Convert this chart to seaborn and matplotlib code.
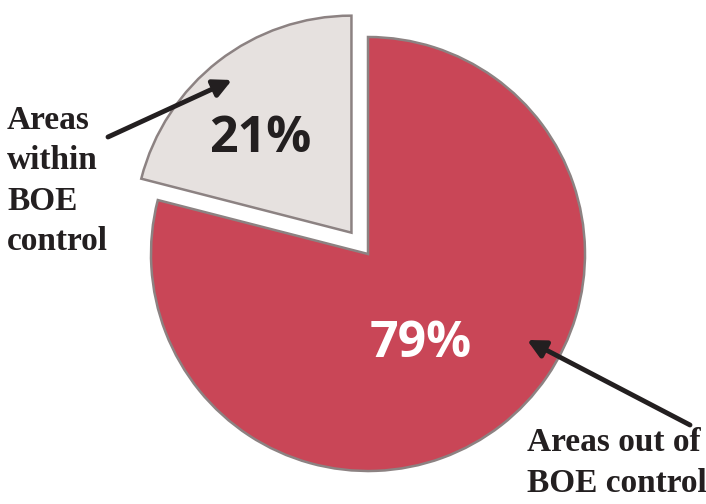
import numpy as np
import pandas as pd
from matplotlib import pyplot as plt
import seaborn as sns

# pie data
labels = ["Areas out of\nBOE control", "Areas\nwithin\nBOE\ncontrol"]
shares = [79, 21]
pct_text = ["79%", "21%"]
colors = ["#c94657", "#e6e1df"]

sns.set_theme(style="white")
plt.rcParams['font.family'] = ['DejaVu Sans']

W, H = 706, 504
fig = plt.figure(figsize=(W / 100, H / 100), dpi=100)
ax = fig.add_axes([0, 0, 1, 1])

cx, cy, r = 368, H - 254, 217
# explode is in data units here (not scaled by radius)
wedges, _ = ax.pie(shares, colors=colors, startangle=90, counterclock=False,
                   explode=[0, 27], center=(cx, cy), radius=r,
                   wedgeprops=dict(edgecolor="#8c8282", linewidth=1.8))
ax.set_xlim(0, W)
ax.set_ylim(0, H)
ax.set_aspect("equal")
ax.axis("off")

# percent labels
ax.text(421, H - 344, pct_text[0], color="white", fontsize=36, fontweight="bold",
        family="Open Sans", ha="center", va="center")
ax.text(260, H - 139, pct_text[1], color="#231f20", fontsize=36, fontweight="bold",
        family="Open Sans", ha="center", va="center")

# callout labels
ax.text(7, H - 105, labels[1], fontsize=24, fontweight="bold", family="Liberation Serif",
        color="#231f20", ha="left", va="top", linespacing=1.39)
ax.text(527, H - 427, labels[0], fontsize=24, fontweight="bold", family="Liberation Serif",
        color="#231f20", ha="left", va="top", linespacing=1.4)

arrow = dict(arrowstyle="-|>,head_length=0.9,head_width=0.45", color="#231f20", lw=3.5,
             shrinkA=0, shrinkB=0)
ax.annotate("", xy=(232, H - 80), xytext=(108, H - 137), arrowprops=arrow)
ax.annotate("", xy=(527, H - 340), xytext=(690, H - 425), arrowprops=arrow)

plt.savefig("out.png", dpi=100)
